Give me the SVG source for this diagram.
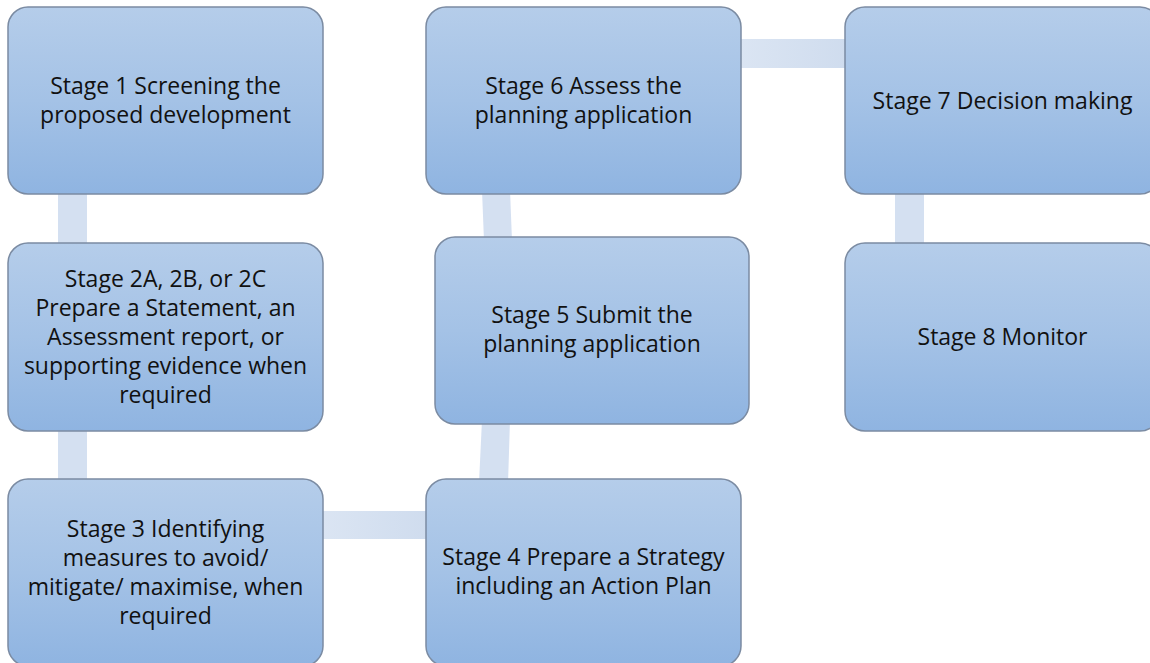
<svg xmlns="http://www.w3.org/2000/svg" width="1150" height="663" viewBox="0 0 1150 663">
<defs>
<linearGradient id="boxFill" x1="0" y1="0" x2="0" y2="1">
<stop offset="0" stop-color="#b5cdea"/>
<stop offset="0.5" stop-color="#a4c2e6"/>
<stop offset="1" stop-color="#8fb4e1"/>
</linearGradient>
<linearGradient id="connH" x1="0" y1="0" x2="1" y2="0">
<stop offset="0" stop-color="#dbe5f3"/>
<stop offset="1" stop-color="#cfdcee"/>
</linearGradient>
</defs>
<style>
.box{fill:url(#boxFill);stroke:#7b8ba2;stroke-width:1.5}
.conn{fill:#d4e0f1;stroke:none}
.connh{fill:url(#connH);stroke:none}
text{font-family:"Open Sans","Noto Sans","Liberation Sans",sans-serif;font-size:23px;fill:#111;text-anchor:middle}
</style>
<rect width="1150" height="663" fill="#ffffff"/>
<g id="connectors">
<rect class="conn" x="58" y="190" width="29" height="58"/>
<rect class="conn" x="58" y="427" width="29" height="56"/>
<rect class="connh" x="320" y="511" width="110" height="28"/>
<polygon class="conn" points="482,420 510,420 508,483 479,483"/>
<polygon class="conn" points="482,190 510,190 512,241 484,241"/>
<rect class="connh" x="738" y="39" width="110" height="29"/>
<rect class="conn" x="895" y="190" width="29" height="57"/>
</g>
<g id="stage1">
<rect class="box" x="8" y="7" width="315" height="187" rx="20"/>
<text x="165.5" y="94">Stage 1 Screening the</text>
<text x="165.5" y="123">proposed development</text>
</g>
<g id="stage2">
<rect class="box" x="8" y="243" width="315" height="188" rx="20"/>
<text x="165.5" y="287">Stage 2A, 2B, or 2C</text>
<text x="165.5" y="316">Prepare a Statement, an</text>
<text x="165.5" y="345">Assessment report, or</text>
<text x="165.5" y="374">supporting evidence when</text>
<text x="165.5" y="403">required</text>
</g>
<g id="stage3">
<rect class="box" x="8" y="479" width="315" height="187" rx="20"/>
<text x="165.5" y="537">Stage 3 Identifying</text>
<text x="165.5" y="566">measures to avoid/</text>
<text x="165.5" y="595">mitigate/ maximise, when</text>
<text x="165.5" y="624">required</text>
</g>
<g id="stage4">
<rect class="box" x="426" y="479" width="315" height="187" rx="20"/>
<text x="583.5" y="565">Stage 4 Prepare a Strategy</text>
<text x="583.5" y="594">including an Action Plan</text>
</g>
<g id="stage5">
<rect class="box" x="435" y="237" width="314" height="187" rx="20"/>
<text x="592" y="323">Stage 5 Submit the</text>
<text x="592" y="352">planning application</text>
</g>
<g id="stage6">
<rect class="box" x="426" y="7" width="315" height="187" rx="20"/>
<text x="583.5" y="94">Stage 6 Assess the</text>
<text x="583.5" y="123">planning application</text>
</g>
<g id="stage7">
<rect class="box" x="845" y="7" width="315" height="187" rx="20"/>
<text x="1002.5" y="109">Stage 7 Decision making</text>
</g>
<g id="stage8">
<rect class="box" x="845" y="243" width="315" height="188" rx="20"/>
<text x="1002.5" y="345">Stage 8 Monitor</text>
</g>
</svg>
